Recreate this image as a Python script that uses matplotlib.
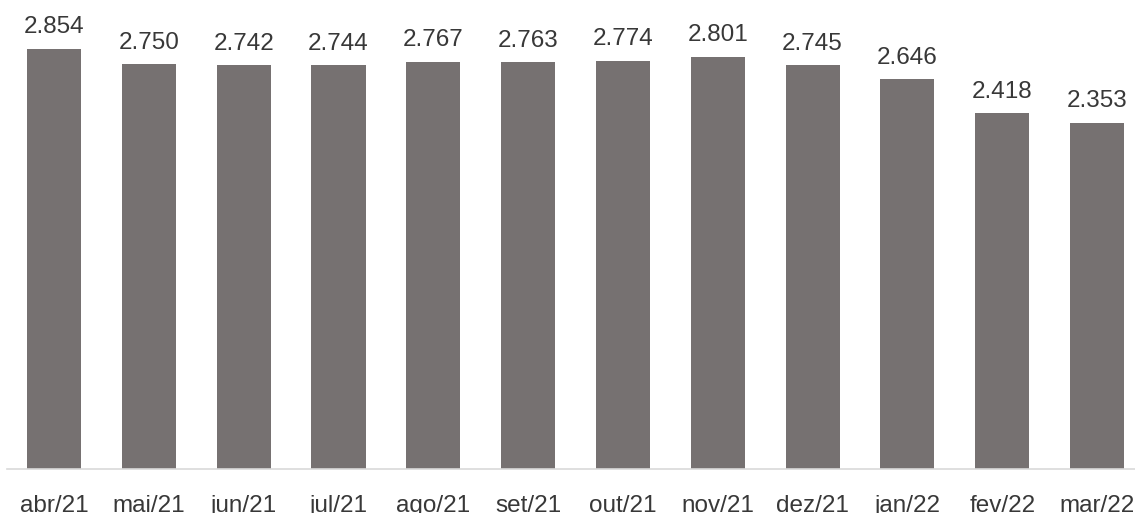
import numpy as np
import matplotlib.pyplot as plt

plt.rcParams['font.family'] = ['Liberation Sans', 'DejaVu Sans']

meses = ['abr/21', 'mai/21', 'jun/21', 'jul/21', 'ago/21', 'set/21',
         'out/21', 'nov/21', 'dez/21', 'jan/22', 'fev/22', 'mar/22']
valores = [2.854, 2.750, 2.742, 2.744, 2.767, 2.763,
           2.774, 2.801, 2.745, 2.646, 2.418, 2.353]
rotulos = ['2.854', '2.750', '2.742', '2.744', '2.767', '2.763',
           '2.774', '2.801', '2.745', '2.646', '2.418', '2.353']

fig = plt.figure(figsize=(11.35, 5.13), dpi=100)
ax = fig.add_axes([7 / 1135, 44 / 513, 1128 / 1135, 469 / 513])

x = np.arange(len(meses))
barras = ax.bar(x, valores, width=0.57, color='#767171')
ax.bar_label(barras, labels=rotulos, padding=7.5, fontsize=17.5, color='#383838')

ax.set_xlim(-0.496, 11.40)
ax.set_ylim(0, 3.186)
ax.set_xticks(x)
ax.set_xticklabels(meses, fontsize=17.5, color='#383838')
ax.tick_params(axis='x', length=0, pad=18.5)
ax.set_yticks([])

for lado in ['top', 'right', 'left']:
    ax.spines[lado].set_visible(False)
ax.spines['bottom'].set_color('#d9d9d9')
ax.spines['bottom'].set_linewidth(1.2)

fig.savefig('out.png', dpi=100)
